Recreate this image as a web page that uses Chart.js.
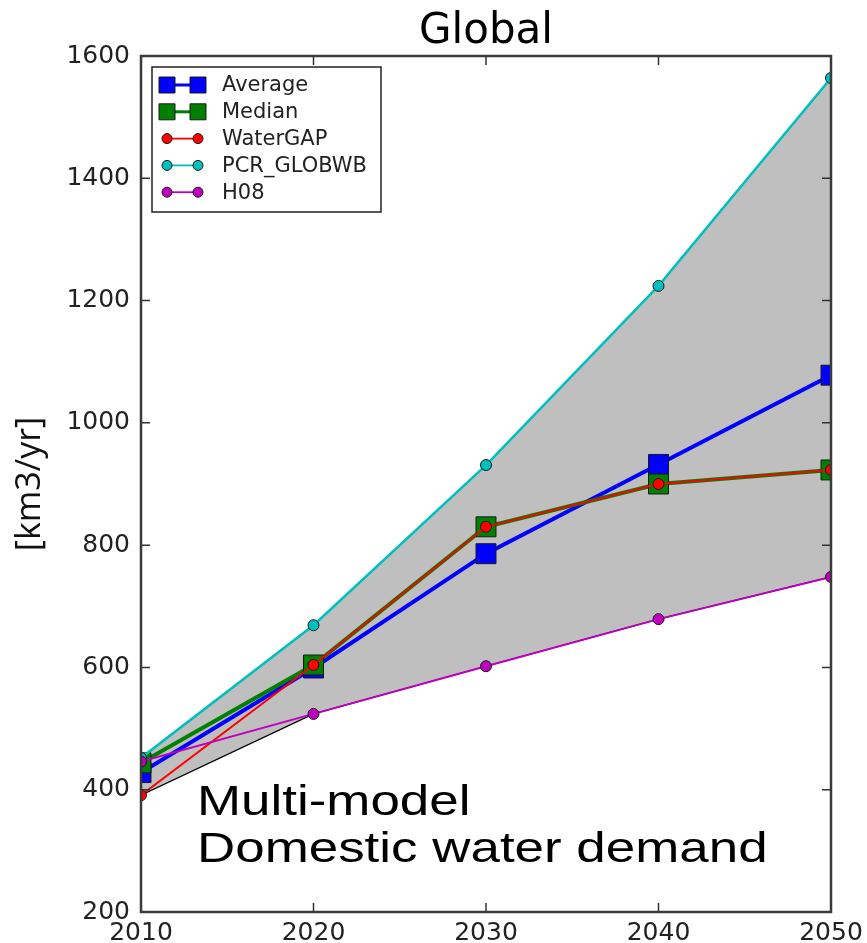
<!DOCTYPE html>
<html>
<head>
<meta charset="utf-8">
<script src="https://cdn.jsdelivr.net/npm/chart.js@4.4.1/dist/chart.umd.min.js"></script>
<style>
  html, body { margin: 0; padding: 0; background: #fff; }
  canvas { display: block; }
</style>
</head>
<body>
<canvas id="c" width="867" height="943"></canvas>
<script>
// ---- Data ----
const years = ['2010', '2020', '2030', '2040', '2050'];
const average = [428, 599, 786, 932, 1078];
const median = [444, 604, 830, 900, 923];
const waterGAP = [391, 604, 830, 900, 923];
const pcrGlobwb = [452, 669, 931, 1224, 1564];
const h08 = [446, 524, 602, 679, 748];
const envelopeLow = [391, 524, 602, 679, 748];
const yTickValues = [200, 400, 600, 800, 1000, 1200, 1400, 1600];
const titleText = 'Global';
const yAxisTitle = '[km3/yr]';
const noteLines = ['Multi-model', 'Domestic water demand'];

const TICK_FONT = { family: 'DejaVu Sans', size: 25 };

const datasets = [
  { label: 'Average', data: average, borderColor: '#0000ff', backgroundColor: '#0000ff',
    borderWidth: 4, pointStyle: 'rect', pointRadius: 14.1, pointBorderColor: '#1a1a1a',
    pointBorderWidth: 1, pointBackgroundColor: '#0000ff', order: 6, legendMarker: 'square' },
  { label: 'Median', data: median, borderColor: '#008000', backgroundColor: '#008000',
    borderWidth: 4, pointStyle: 'rect', pointRadius: 14.1, pointBorderColor: '#1a1a1a',
    pointBorderWidth: 1, pointBackgroundColor: '#008000', order: 5, legendMarker: 'square' },
  { label: 'WaterGAP', data: waterGAP, borderColor: '#ff0000', backgroundColor: '#ff0000',
    borderWidth: 2, pointStyle: 'circle', pointRadius: 5.5, pointBorderColor: '#1a1a1a',
    pointBorderWidth: 1, pointBackgroundColor: '#ff0000', order: 4, legendMarker: 'circle' },
  { label: 'PCR_GLOBWB', data: pcrGlobwb, borderColor: '#00bfbf', backgroundColor: '#00bfbf',
    borderWidth: 2.5, pointStyle: 'circle', pointRadius: 5.5, pointBorderColor: '#1a1a1a',
    pointBorderWidth: 1, pointBackgroundColor: '#00bfbf', order: 3, legendMarker: 'circle' },
  { label: 'H08', data: h08, borderColor: '#bf00bf', backgroundColor: '#bf00bf',
    borderWidth: 2, pointStyle: 'circle', pointRadius: 5.5, pointBorderColor: '#1a1a1a',
    pointBorderWidth: 1, pointBackgroundColor: '#bf00bf', order: 2, legendMarker: 'circle' },
  { label: 'envelope', data: envelopeLow, borderColor: '#000000', borderWidth: 1.2,
    pointRadius: 0, fill: { target: 3 }, backgroundColor: '#bfbfbf', order: 10, legendMarker: null }
];
datasets.forEach(d => { d.tension = 0; d.clip = 0; if (d.fill === undefined) d.fill = false; });

// Title centred over the plot area
const titlePlugin = {
  id: 'plotTitle',
  afterDraw(chart) {
    const { ctx, chartArea: a } = chart;
    ctx.save();
    ctx.font = '42px "DejaVu Sans"';
    ctx.fillStyle = '#000';
    ctx.textAlign = 'center';
    ctx.textBaseline = 'alphabetic';
    ctx.fillText(titleText, (a.left + a.right) / 2, 43);
    ctx.restore();
  }
};

// Frame and inward tick marks on all four sides
const framePlugin = {
  id: 'frame',
  afterDatasetsDraw(chart) {
    const { ctx, chartArea: a, scales } = chart;
    const tl = 9;
    ctx.save();
    ctx.strokeStyle = '#333';
    ctx.lineWidth = 1.5;
    yTickValues.forEach(v => {
      const y = scales.y.getPixelForValue(v);
      ctx.beginPath();
      ctx.moveTo(a.left, y); ctx.lineTo(a.left + tl, y);
      ctx.moveTo(a.right, y); ctx.lineTo(a.right - tl, y);
      ctx.stroke();
    });
    years.forEach((_, i) => {
      const x = scales.x.getPixelForValue(i);
      ctx.beginPath();
      ctx.moveTo(x, a.bottom); ctx.lineTo(x, a.bottom - tl);
      ctx.moveTo(x, a.top); ctx.lineTo(x, a.top + tl);
      ctx.stroke();
    });
    ctx.lineWidth = 2.5;
    ctx.strokeStyle = '#3a3a3a';
    ctx.strokeRect(a.left, a.top, a.right - a.left, a.bottom - a.top);
    ctx.restore();
  }
};

// Matplotlib-style legend drawn in the upper-left of the plot
const legendPlugin = {
  id: 'mplLegend',
  afterDatasetsDraw(chart) {
    const { ctx, chartArea: a } = chart;
    const bx = a.left + 11, by = a.top + 11, bw = 229, bh = 145;
    ctx.save();
    ctx.fillStyle = '#fff';
    ctx.fillRect(bx, by, bw, bh);
    ctx.strokeStyle = '#222';
    ctx.lineWidth = 1.5;
    ctx.strokeRect(bx, by, bw, bh);
    const items = chart.data.datasets.filter(d => d.legendMarker);
    items.forEach((d, i) => {
      const cy = by + 18 + i * 26.8;
      const x1 = bx + 15, x2 = bx + 46;
      ctx.strokeStyle = d.borderColor;
      ctx.lineWidth = d.legendMarker === 'square' ? 3 : 1.8;
      ctx.beginPath(); ctx.moveTo(x1, cy); ctx.lineTo(x2, cy); ctx.stroke();
      ctx.fillStyle = d.pointBackgroundColor;
      ctx.strokeStyle = '#1a1a1a';
      ctx.lineWidth = 1;
      [x1, x2].forEach(x => {
        ctx.beginPath();
        if (d.legendMarker === 'square') {
          ctx.rect(x - 8, cy - 8, 16, 16);
        } else {
          ctx.arc(x, cy, 5, 0, Math.PI * 2);
        }
        ctx.fill(); ctx.stroke();
      });
      ctx.fillStyle = '#222';
      ctx.font = '21px "DejaVu Sans"';
      ctx.textBaseline = 'middle';
      ctx.textAlign = 'left';
      ctx.fillText(d.label, bx + 70, cy + 1);
    });
    ctx.restore();
  }
};

// Annotation text (horizontally stretched as in the reference)
const notePlugin = {
  id: 'note',
  afterDraw(chart) {
    const { ctx } = chart;
    ctx.save();
    ctx.font = '42px "Liberation Sans", Arial, sans-serif';
    ctx.fillStyle = '#000';
    ctx.textBaseline = 'alphabetic';
    ctx.textAlign = 'left';
    const sx = 1.26;
    ctx.translate(197, 0);
    ctx.scale(sx, 1);
    ctx.fillText(noteLines[0], 0, 815);
    ctx.fillText(noteLines[1], 0, 862);
    ctx.restore();
  }
};

new Chart(document.getElementById('c'), {
  type: 'line',
  data: { labels: years, datasets },
  plugins: [framePlugin, legendPlugin, titlePlugin, notePlugin],
  options: {
    responsive: false,
    devicePixelRatio: 1,
    animation: false,
    layout: { padding: { left: 0, right: 36, top: 56, bottom: 0 } },
    plugins: {
      legend: { display: false },
      tooltip: { enabled: false },
      title: { display: false }
    },
    scales: {
      x: {
        type: 'category', offset: false,
        grid: { display: false, drawTicks: false },
        border: { display: false },
        ticks: { color: '#222', font: TICK_FONT, padding: 6, maxRotation: 0, autoSkip: false },
        afterFit(s) { s.height = 31; s.paddingLeft = 0; s.paddingRight = 0; }
      },
      y: {
        min: 200, max: 1600,
        grid: { display: false, drawTicks: false },
        border: { display: false },
        afterBuildTicks(s) { s.ticks = yTickValues.map(v => ({ value: v })); },
        ticks: { color: '#222', font: TICK_FONT, padding: 11, callback: v => String(v) },
        title: {
          display: true, text: yAxisTitle, color: '#111',
          font: { family: 'Open Sans', size: 34, weight: 'normal' },
          padding: { top: 10, bottom: 0 }
        },
        afterFit(s) { s.width = 141; s.paddingTop = 0; s.paddingBottom = 0; }
      }
    }
  }
});
</script>
</body>
</html>
